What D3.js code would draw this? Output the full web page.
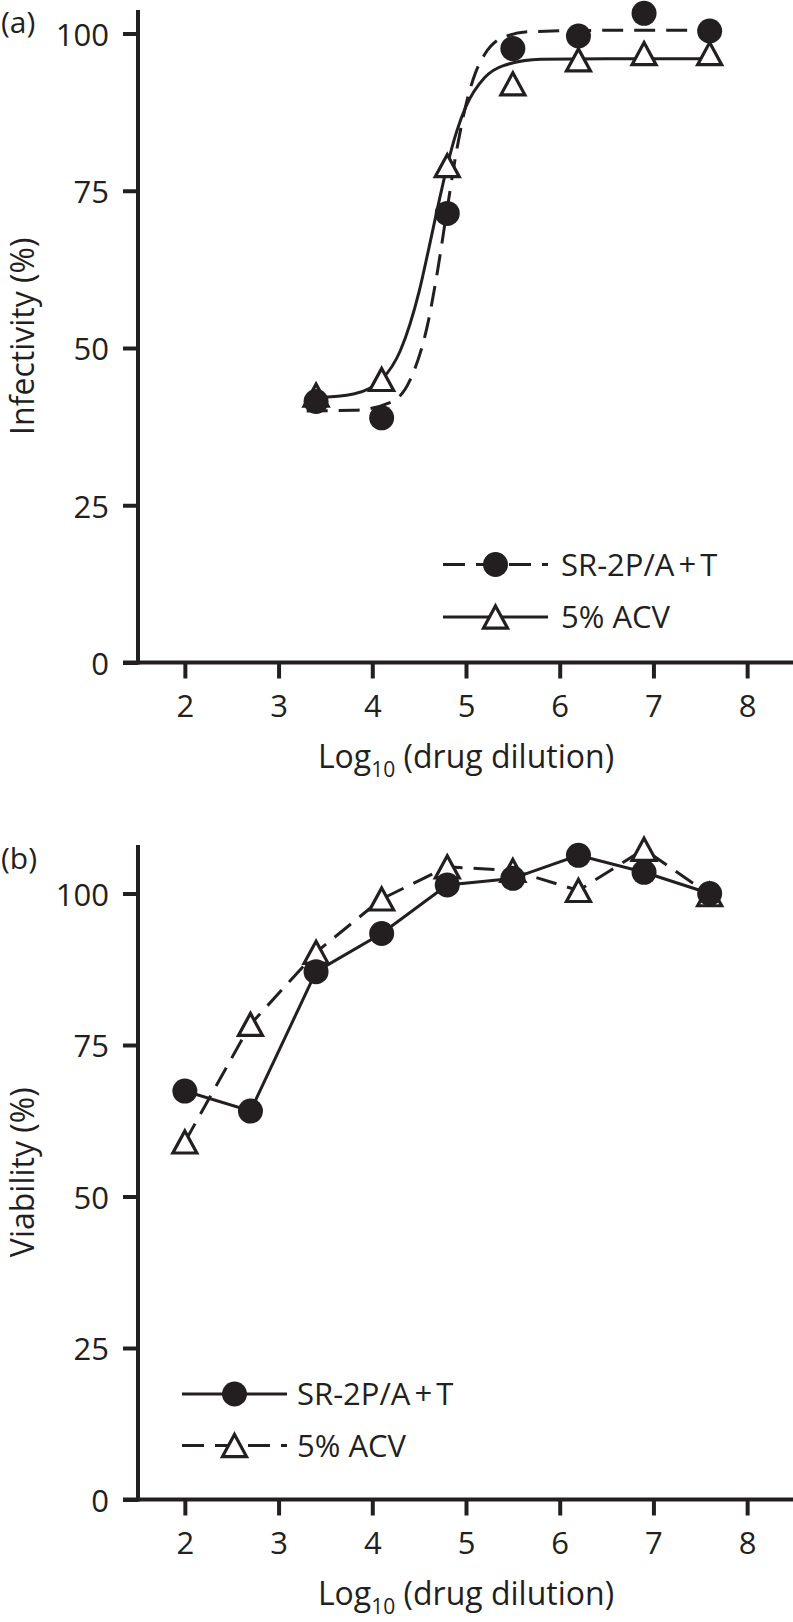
<!DOCTYPE html>
<html>
<head>
<meta charset="utf-8">
<script src="https://cdn.jsdelivr.net/npm/d3@7"></script>
<style>
  html, body { margin: 0; padding: 0; background: #fff; }
  svg { display: block; }
  text { font-family: "Open Sans", "Liberation Sans", sans-serif; fill: #231f20; }
</style>
</head>
<body>
<svg id="chart" width="793" height="1622"></svg>
<script>
// ---------------- data ----------------
const xTicks = [2, 3, 4, 5, 6, 7, 8];
const yTicks = [0, 25, 50, 75, 100];
const xValues = [3.4, 4.1, 4.8, 5.5, 6.2, 6.9, 7.6];
const seriesNames = ["SR-2P/A+T", "5% ACV"];

// (a) infectivity
const infectSR  = [41.5, 38.9, 71.4, 97.6, 99.6, 103.2, 100.4];
const infectACV = [42.5, 45.0, 79.0, 92.0, 95.8, 96.8, 96.8];
// fitted curves
const fitSRx  = [3.3, 3.8, 4.2, 4.4, 4.6, 4.7, 4.8, 4.9, 5.0, 5.1, 5.2, 5.4, 5.7, 6.5, 7.65];
const fitSRy  = [40.0, 40.1, 41.4, 44.8, 54.4, 62.6, 72.2, 81.4, 88.7, 93.7, 96.7, 99.4, 100.3, 100.5, 100.5];
const fitACVx = [3.4, 3.8, 4.1, 4.3, 4.5, 4.6, 4.7, 4.8, 4.9, 5.0, 5.2, 5.4, 5.8, 6.5, 7.6];
const fitACVy = [42.1, 42.7, 45.0, 49.6, 59.0, 65.6, 72.5, 79.0, 84.4, 88.4, 93.0, 94.9, 95.9, 96.0, 96.0];

// (b) viability
const viabX = [2.0, 2.7, 3.4, 4.1, 4.8, 5.5, 6.2, 6.9, 7.6];
const viabSR  = [67.4, 64.1, 87.1, 93.4, 101.4, 102.5, 106.3, 103.5, 100.0];
const viabACV = [59.0, 78.4, 90.3, 99.1, 104.4, 103.8, 100.5, 107.3, 99.8];

// ---------------- drawing ----------------
const INK = "#231f20";
const FONT = "'Open Sans', 'Liberation Sans', sans-serif";
const svg = d3.select("#chart");

// triangle centred on its bounding box
const triBox = {
  draw(ctx, size) {
    const w = Math.sqrt(size), h = w * 0.92;
    ctx.moveTo(0, -h / 2);
    ctx.lineTo(w / 2, h / 2);
    ctx.lineTo(-w / 2, h / 2);
    ctx.closePath();
  }
};
const triPath = d3.symbol().type(triBox).size(24 * 24)();
const R = 12.5;

function drawMarkers(g, xs, ys, x, y, kind) {
  if (kind === "tri") {
    g.selectAll(null).data(xs).join("path")
      .attr("d", triPath)
      .attr("transform", (d, i) => `translate(${x(d)},${y(ys[i])})`)
      .attr("fill", "#fff").attr("stroke", INK).attr("stroke-width", 3.2)
      .attr("stroke-linejoin", "miter");
  } else {
    g.selectAll(null).data(xs).join("circle")
      .attr("cx", d => x(d)).attr("cy", (d, i) => y(ys[i])).attr("r", R)
      .attr("fill", INK);
  }
}

function drawLine(g, xs, ys, x, y, dashed, curve) {
  const line = d3.line().x(d => x(d[0])).y(d => y(d[1])).curve(curve || d3.curveLinear);
  g.append("path")
    .attr("d", line(xs.map((d, i) => [d, ys[i]])))
    .attr("fill", "none").attr("stroke", INK).attr("stroke-width", 3)
    .attr("stroke-dasharray", dashed ? "21,11" : null);
}

function drawPanel(cfg) {
  const g = svg.append("g");
  const x = d3.scaleLinear().domain([1.5, 8.5]).range([138, 794]);
  const y = d3.scaleLinear().domain([0, 100]).range([cfg.y0, cfg.y100]);

  // axes
  const xa = g.append("g").attr("transform", `translate(0,${cfg.y0})`)
    .call(d3.axisBottom(x).tickValues(xTicks).tickSize(16).tickPadding(16).tickFormat(d3.format("d")));
  const ya = g.append("g").attr("transform", `translate(138,0)`)
    .call(d3.axisLeft(y).tickValues(yTicks).tickSize(15).tickPadding(14).tickFormat(d3.format("d")));
  [xa, ya].forEach(a => {
    a.select(".domain").remove();
    a.selectAll(".tick line").attr("stroke", INK).attr("stroke-width", 4);
    a.selectAll(".tick text").attr("fill", INK).style("font-size", "31px")
      .style("font-family", FONT);
  });
  ya.selectAll(".tick text").attr("dy", "0.38em");
  // axis lines
  g.append("line").attr("x1", 123).attr("x2", 794).attr("y1", cfg.y0).attr("y2", cfg.y0)
    .attr("stroke", INK).attr("stroke-width", 4);
  g.append("line").attr("x1", 138).attr("x2", 138).attr("y1", cfg.y0 + 2).attr("y2", cfg.yTop)
    .attr("stroke", INK).attr("stroke-width", 4);

  // axis titles
  const xt = g.append("text").attr("x", x(5)).attr("y", cfg.y0 + 105)
    .attr("text-anchor", "middle").style("font-size", "32px");
  xt.append("tspan").text("Log");
  xt.append("tspan").text("10").style("font-size", "21px").attr("dy", 9);
  xt.append("tspan").text(" (drug dilution)").attr("dy", -9);

  g.append("text")
    .attr("transform", `translate(34,${(cfg.y0 + cfg.yTop) / 2}) rotate(-90)`)
    .attr("text-anchor", "middle").style("font-size", "32px").text(cfg.yTitle);

  g.append("text").attr("x", 1).attr("y", cfg.labelY).style("font-size", "30px").text(cfg.label);

  cfg.plot(g, x, y);

  // legend
  const L = cfg.legend;
  const lg = g.append("g");
  L.rows.forEach((r, i) => {
    const yy = L.y[i];
    lg.append("line").attr("x1", L.x1).attr("x2", L.x2).attr("y1", yy).attr("y2", yy)
      .attr("stroke", INK).attr("stroke-width", 3)
      .attr("stroke-dasharray", r.dashed ? "22,11" : null);
    const mx = (L.x1 + L.x2) / 2;
    if (r.kind === "tri") {
      lg.append("path").attr("d", triPath).attr("transform", `translate(${mx},${yy})`)
        .attr("fill", "#fff").attr("stroke", INK).attr("stroke-width", 3.2);
    } else {
      lg.append("circle").attr("cx", mx).attr("cy", yy).attr("r", R).attr("fill", INK);
    }
    const t = lg.append("text").attr("x", L.tx).attr("y", yy).attr("dy", "0.36em")
      .style("font-size", "31px");
    if (r.name.indexOf("+") >= 0) {
      const parts = r.name.split("+");
      t.append("tspan").text(parts[0]);
      t.append("tspan").text("+").attr("dx", 4);
      t.append("tspan").text(parts[1]).attr("dx", 4);
    } else {
      t.text(r.name);
    }
  });
}

// panel (a)
drawPanel({
  y0: 662.5, y100: 33.5, yTop: 10, label: "(a)", labelY: 33,
  yTitle: "Infectivity (%)",
  plot(g, x, y) {
    drawLine(g, fitSRx, fitSRy, x, y, true, d3.curveMonotoneX);
    drawLine(g, fitACVx, fitACVy, x, y, false, d3.curveMonotoneX);
    drawMarkers(g, xValues, infectACV, x, y, "tri");
    drawMarkers(g, xValues, infectSR, x, y, "circ");
  },
  legend: { x1: 443, x2: 548, tx: 561, y: [564.5, 617],
    rows: [{ name: seriesNames[0], dashed: true, kind: "circ" },
           { name: seriesNames[1], dashed: false, kind: "tri" }] }
});

// panel (b)
drawPanel({
  y0: 1499.5, y100: 893.5, yTop: 845, label: "(b)", labelY: 869,
  yTitle: "Viability (%)",
  plot(g, x, y) {
    drawLine(g, viabX, viabACV, x, y, true);
    drawLine(g, viabX, viabSR, x, y, false);
    drawMarkers(g, viabX, viabACV, x, y, "tri");
    drawMarkers(g, viabX, viabSR, x, y, "circ");
  },
  legend: { x1: 182, x2: 287, tx: 297, y: [1394, 1445.5],
    rows: [{ name: seriesNames[0], dashed: false, kind: "circ" },
           { name: seriesNames[1], dashed: true, kind: "tri" }] }
});
</script>
</body>
</html>
